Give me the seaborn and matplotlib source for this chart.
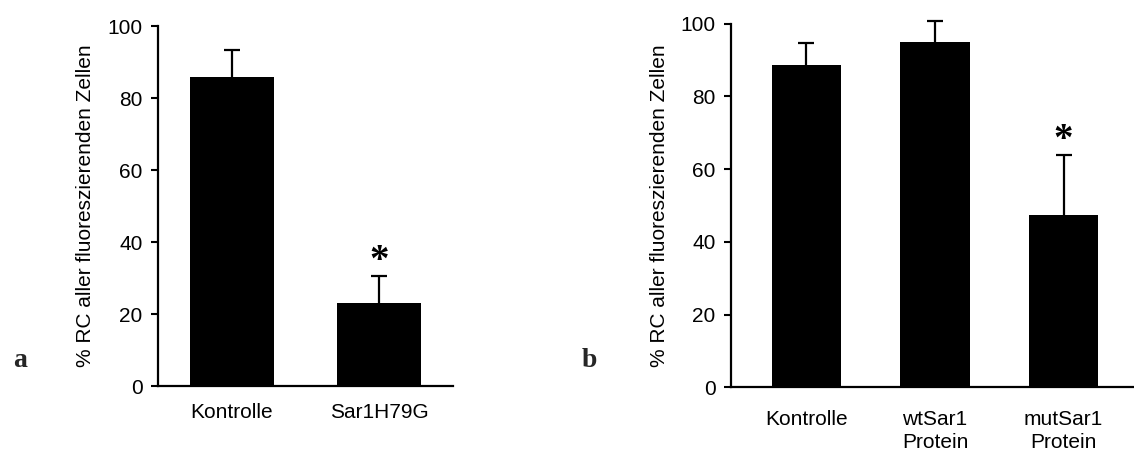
import matplotlib
matplotlib.use("Agg")
import matplotlib.pyplot as plt
import seaborn as sns
import numpy as np

# Panel a
cats_a = ["Kontrolle", "Sar1H79G"]
means_a = [85.7, 23.0]
errs_a = [7.6, 7.6]
sig_a = [False, True]

# Panel b
cats_b = ["Kontrolle", "wtSar1\nProtein", "mutSar1\nProtein"]
means_b = [88.5, 94.9, 47.3]
errs_b = [6.3, 5.7, 16.7]
sig_b = [False, False, True]

ylabel = "% RC aller fluoreszierenden Zellen"
yticks = [0, 20, 40, 60, 80, 100]

sns.set_theme(style="ticks")
plt.rcParams["font.family"] = ["Liberation Sans", "DejaVu Sans"]

fig = plt.figure(figsize=(11.34, 4.5), dpi=100)
ax1 = fig.add_axes([0.1393, 0.1422, 0.2601, 0.8])
ax2 = fig.add_axes([0.6446, 0.1393, 0.3545, 0.8082])


def panel(ax, cats, means, errs, sig, width, xlim, xpad, lcx):
    sns.barplot(x=cats, y=means, color="black", saturation=1, width=width,
                edgecolor="none", ax=ax)
    xs = np.arange(len(cats))
    eb = ax.errorbar(xs, means, yerr=[np.zeros(len(errs)), errs], fmt="none",
                     ecolor="black", elinewidth=1.6, capsize=6, capthick=1.6)
    caps = eb[1]
    if len(caps) == 2:
        caps[0].set_visible(False)
    for art in eb.get_children():
        art.set_clip_on(False)
    for x, m, e, s in zip(xs, means, errs, sig):
        if s:
            ax.text(x, m + e - 1.2, "*", ha="center", va="bottom",
                    fontsize=28, fontweight="bold",
                    family="Liberation Serif", color="black")
    ax.set_ylim(0, 100)
    ax.set_xlim(*xlim)
    ax.set_yticks(yticks)
    ax.set_ylabel(ylabel, fontsize=15, color="black")
    ax.yaxis.set_label_coords(lcx, 0.5)
    ax.tick_params(axis="y", length=5, width=1.5, labelsize=15, pad=6,
                   colors="black", direction="out")
    ax.tick_params(axis="x", length=0, labelsize=15, pad=xpad, colors="black")
    for lbl in ax.get_xticklabels():
        lbl.set_linespacing(1.3)
    for sp in ["top", "right"]:
        ax.spines[sp].set_visible(False)
    for sp in ["left", "bottom"]:
        ax.spines[sp].set_linewidth(1.6)
        ax.spines[sp].set_color("black")
    ax.set_facecolor("white")


panel(ax1, cats_a, means_a, errs_a, sig_a, 0.57, (-0.5, 1.5), 12, -0.215)
panel(ax2, cats_b, means_b, errs_b, sig_b, 0.54, (-0.587, 2.54), 16, -0.155)

fig.text(0.0176, 0.185, "a", ha="center", va="baseline", fontsize=20,
         fontweight="bold", family="Liberation Serif")
fig.text(0.5194, 0.185, "b", ha="center", va="baseline", fontsize=20,
         fontweight="bold", family="Liberation Serif")

fig.savefig("out.png", dpi=100, facecolor="white")
